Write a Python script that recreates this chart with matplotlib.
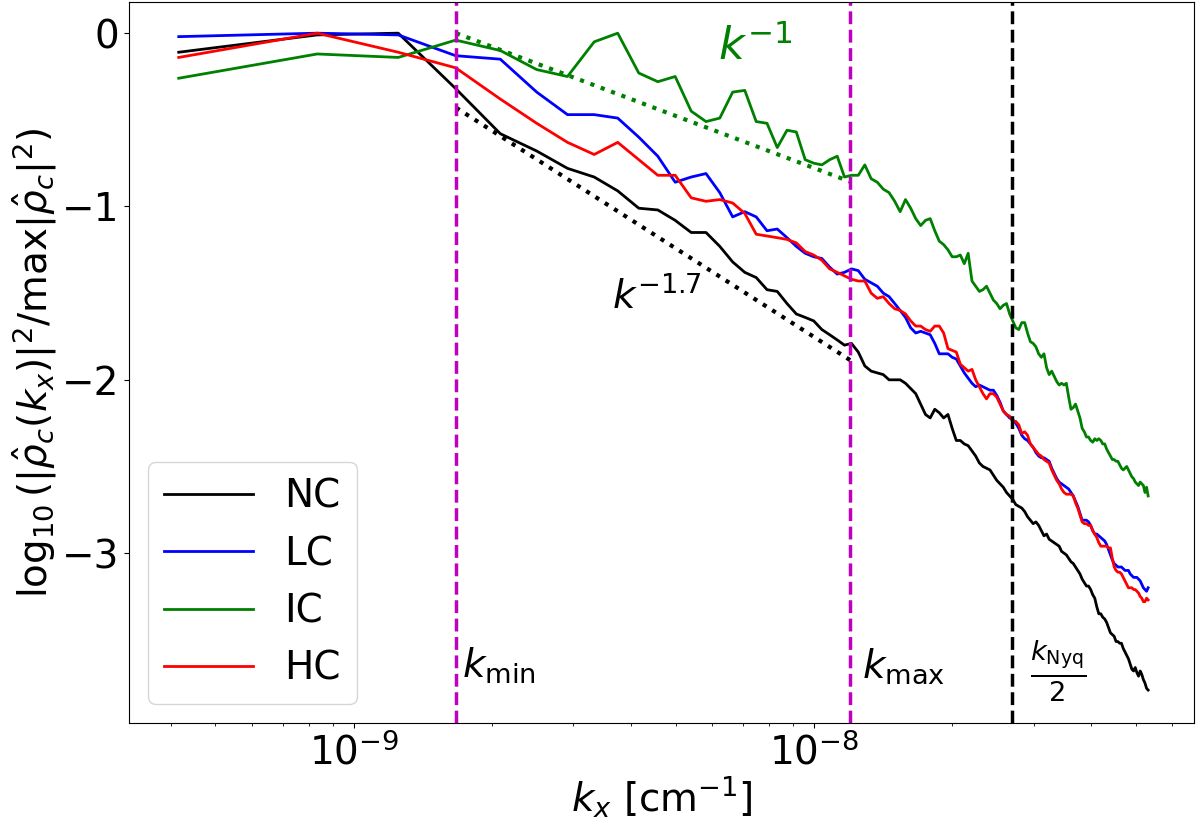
import numpy as np
import matplotlib
matplotlib.use("Agg")
import matplotlib.pyplot as plt
from matplotlib.ticker import NullFormatter

# wavenumber grid: bins n = 1..128, spacing dk [cm^-1]
dk = 4.16e-10
n_bins = np.arange(1, 129)
kx = n_bins * dk

k_min = 1.667e-9
k_max = 1.2e-8
k_nyq_half = 2.69e-8

nc = [-0.11, -0.01, 0.00, -0.32, -0.58, -0.68, -0.78, -0.83, -0.91, -1.01,
      -1.02, -1.08, -1.15, -1.15, -1.23, -1.32, -1.38, -1.41, -1.48, -1.49,
      -1.56, -1.62, -1.64, -1.66, -1.71, -1.74, -1.77, -1.80, -1.79, -1.84,
      -1.92, -1.95, -1.96, -1.97, -2.00, -2.00, -2.00, -2.02, -2.05, -2.08,
      -2.14, -2.20, -2.22, -2.17, -2.19, -2.22, -2.20, -2.28, -2.35, -2.35,
      -2.37, -2.38, -2.41, -2.44, -2.48, -2.50, -2.51, -2.52, -2.55, -2.58,
      -2.60, -2.62, -2.65, -2.67, -2.69, -2.72, -2.73, -2.74, -2.76, -2.79,
      -2.81, -2.83, -2.82, -2.84, -2.87, -2.90, -2.89, -2.92, -2.93, -2.94,
      -2.95, -2.96, -2.99, -3.00, -3.01, -3.03, -3.05, -3.06, -3.08, -3.10,
      -3.12, -3.15, -3.17, -3.19, -3.19, -3.21, -3.24, -3.26, -3.31, -3.35,
      -3.35, -3.37, -3.38, -3.40, -3.43, -3.46, -3.47, -3.48, -3.51, -3.51,
      -3.52, -3.52, -3.55, -3.57, -3.59, -3.61, -3.64, -3.67, -3.68, -3.66,
      -3.69, -3.71, -3.68, -3.70, -3.73, -3.75, -3.78, -3.79]

lc = [-0.02, 0.00, -0.01, -0.13, -0.15, -0.34, -0.47, -0.47, -0.49, -0.60,
      -0.71, -0.86, -0.83, -0.81, -0.92, -1.06, -1.03, -1.06, -1.14, -1.13,
      -1.18, -1.23, -1.27, -1.29, -1.30, -1.35, -1.39, -1.38, -1.36, -1.37,
      -1.42, -1.44, -1.46, -1.50, -1.52, -1.56, -1.60, -1.64, -1.70, -1.73,
      -1.72, -1.73, -1.74, -1.79, -1.85, -1.85, -1.85, -1.87, -1.88, -1.92,
      -1.96, -1.99, -2.02, -2.04, -2.03, -2.04, -2.05, -2.06, -2.06, -2.09,
      -2.13, -2.18, -2.20, -2.22, -2.23, -2.25, -2.28, -2.32, -2.34, -2.35,
      -2.37, -2.39, -2.42, -2.44, -2.45, -2.45, -2.46, -2.47, -2.51, -2.54,
      -2.57, -2.59, -2.60, -2.61, -2.62, -2.63, -2.65, -2.67, -2.70, -2.73,
      -2.77, -2.81, -2.81, -2.81, -2.82, -2.84, -2.87, -2.89, -2.89, -2.90,
      -2.91, -2.92, -2.93, -2.95, -2.98, -3.01, -3.04, -3.06, -3.07, -3.08,
      -3.08, -3.08, -3.09, -3.10, -3.10, -3.10, -3.12, -3.13, -3.14, -3.14,
      -3.14, -3.15, -3.16, -3.18, -3.20, -3.21, -3.22, -3.20]

ic = [-0.26, -0.12, -0.14, -0.04, -0.10, -0.21, -0.25, -0.05, 0.00, -0.23,
      -0.28, -0.25, -0.45, -0.51, -0.49, -0.34, -0.33, -0.51, -0.52, -0.66,
      -0.56, -0.57, -0.73, -0.75, -0.76, -0.73, -0.71, -0.83, -0.82, -0.82,
      -0.76, -0.84, -0.86, -0.90, -0.92, -0.97, -1.03, -0.96, -1.01, -1.07,
      -1.11, -1.08, -1.07, -1.14, -1.20, -1.22, -1.25, -1.29, -1.29, -1.28,
      -1.33, -1.27, -1.43, -1.46, -1.49, -1.48, -1.46, -1.50, -1.54, -1.56,
      -1.59, -1.57, -1.56, -1.62, -1.66, -1.70, -1.71, -1.67, -1.67, -1.73,
      -1.78, -1.79, -1.81, -1.85, -1.87, -1.85, -1.93, -1.97, -1.95, -1.98,
      -2.01, -2.03, -2.02, -2.03, -2.02, -2.10, -2.17, -2.16, -2.14, -2.18,
      -2.22, -2.28, -2.30, -2.33, -2.33, -2.35, -2.36, -2.34, -2.35, -2.34,
      -2.35, -2.37, -2.37, -2.40, -2.42, -2.44, -2.46, -2.46, -2.47, -2.47,
      -2.49, -2.51, -2.52, -2.51, -2.50, -2.52, -2.54, -2.56, -2.57, -2.59,
      -2.60, -2.61, -2.59, -2.60, -2.61, -2.65, -2.62, -2.67]

hc = [-0.14, 0.00, -0.11, -0.20, -0.38, -0.52, -0.63, -0.70, -0.63, -0.73,
      -0.82, -0.82, -0.95, -0.97, -0.96, -0.98, -1.04, -1.16, -1.17, -1.18,
      -1.19, -1.21, -1.26, -1.28, -1.31, -1.36, -1.38, -1.40, -1.42, -1.43,
      -1.43, -1.50, -1.53, -1.52, -1.56, -1.59, -1.60, -1.62, -1.66, -1.69,
      -1.69, -1.71, -1.72, -1.69, -1.69, -1.73, -1.82, -1.83, -1.84, -1.91,
      -1.93, -1.95, -1.94, -2.00, -2.04, -2.08, -2.11, -2.08, -2.08, -2.10,
      -2.14, -2.18, -2.20, -2.21, -2.24, -2.24, -2.26, -2.31, -2.30, -2.32,
      -2.37, -2.39, -2.41, -2.43, -2.44, -2.46, -2.47, -2.48, -2.52, -2.55,
      -2.58, -2.60, -2.63, -2.65, -2.66, -2.66, -2.66, -2.67, -2.71, -2.74,
      -2.78, -2.82, -2.83, -2.83, -2.84, -2.84, -2.87, -2.89, -2.91, -2.94,
      -2.96, -2.96, -2.96, -2.96, -2.97, -2.97, -3.03, -3.08, -3.10, -3.11,
      -3.11, -3.12, -3.14, -3.16, -3.18, -3.20, -3.20, -3.20, -3.21, -3.21,
      -3.22, -3.23, -3.25, -3.26, -3.28, -3.28, -3.26, -3.27]

# power-law guides between k_min and k_max: (slope, value at k_min, colour)
guides = [(-1.0, 0.0, 'green'),
          (-1.7, -0.43, 'black')]

fs = 28
plt.rcParams['font.size'] = fs

fig = plt.figure(figsize=(12, 8.24), dpi=100)
ax = fig.add_axes([0.1075, 0.1226, 0.8875, 0.875])

lw = 2.0
ax.plot(kx, nc, color='black', lw=lw, label='NC')
ax.plot(kx, lc, color='blue', lw=lw, label='LC')
ax.plot(kx, ic, color='green', lw=lw, label='IC')
ax.plot(kx, hc, color='red', lw=lw, label='HC')

kg = np.array([k_min, k_max])
for slope, y0, col in guides:
    ax.plot(kg, y0 + slope * np.log10(kg / k_min), ':', color=col, lw=3)

ax.axvline(k_min, color='m', ls='--', lw=2.5)
ax.axvline(k_max, color='m', ls='--', lw=2.5)
ax.axvline(k_nyq_half, color='black', ls='--', lw=2.5)

ax.set_xscale('log')
ax.set_xlim(10 ** -9.489, 10 ** -7.174)
ax.set_ylim(-3.98, 0.18)
ax.xaxis.set_minor_formatter(NullFormatter())

ax.text(7.45e-9, -0.08, r'$k^{-1}$', color='green', fontsize=32, ha='center', va='center')
ax.text(3.64e-9, -1.52, r'$k^{-1.7}$', color='black', fontsize=fs, ha='left', va='center')
ax.text(1.72e-9, -3.65, r'$k_{\rm min}$', fontsize=fs, ha='left', va='center')
ax.text(1.27e-8, -3.65, r'$k_{\rm max}$', fontsize=fs, ha='left', va='center')
ax.text(2.95e-8, -3.68, r'$\frac{k_{\rm Nyq}}{2}$', fontsize=fs, ha='left', va='center')

ax.set_xlabel(r'$k_x$ [cm$^{-1}$]', fontsize=fs, labelpad=2)
ax.set_ylabel(r'$\log_{10}(|\hat{\rho}_c(k_x)|^2/\max|\hat{\rho}_c|^2)$', fontsize=fs)
ax.yaxis.set_label_coords(-0.066, 0.5)
ax.set_yticks([0, -1, -2, -3])
ax.tick_params(labelsize=fs)

ax.legend(loc='lower left', fontsize=fs, handlelength=2.3)

fig.savefig('out.png', dpi=100)
